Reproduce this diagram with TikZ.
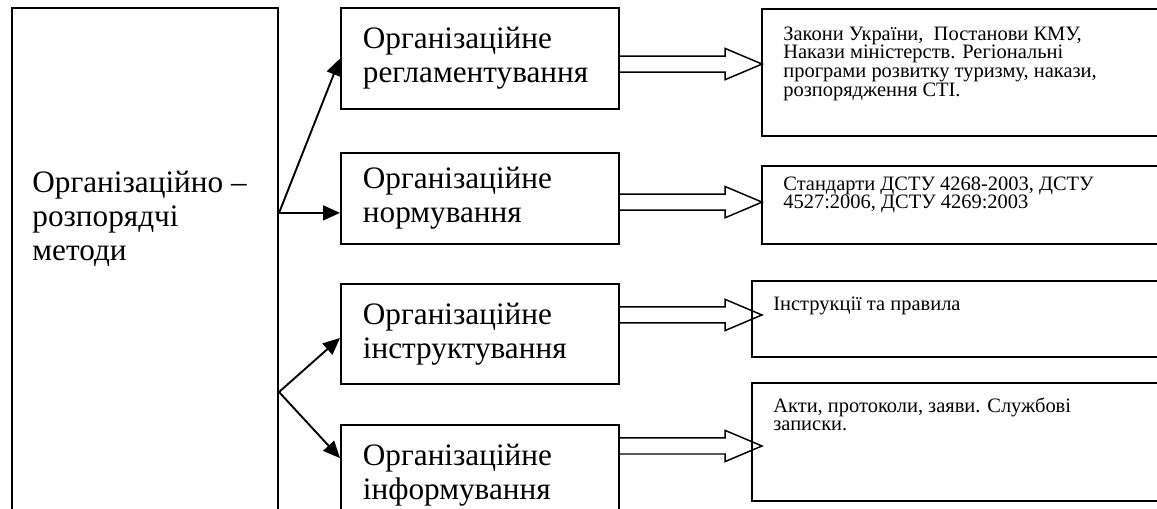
\documentclass[tikz,border=0pt]{standalone}
\usepackage{fontspec}
\setmainfont{Liberation Serif}
\usetikzlibrary{arrows.meta,positioning,calc}
\tikzset{
  methodbox/.style={draw, line width=0.95pt, anchor=north west, inner sep=0pt},
  bigtext/.style={align=left, inner sep=0pt, font=\fontsize{14.8pt}{16.2pt}\selectfont},
  kindbox/.style={draw, line width=0.95pt, anchor=north west, align=left,
    font=\fontsize{14.8pt}{16.2pt}\selectfont, text width=111pt, inner xsep=10.4pt,
    minimum width=131.8pt},
  docbox/.style={draw, line width=0.95pt, anchor=north west, minimum width=199pt},
  doctext/.style={align=left, inner sep=0pt, font=\fontsize{9.7pt}{8.9pt}\selectfont},
  linkarrow/.style={-{Triangle[length=8pt, width=7pt]}, line width=0.9pt},
  blockarrow/.style={line width=0.7pt}
}
\newcommand\hollowarrow[2]{%
  \draw[blockarrow] let \p1=(#1), \p2=(#2) in
    (\x1,\y2+3.8pt) -- (\x2-17.5pt,\y2+3.8pt) -- (\x2-17.5pt,\y2+7.4pt)
    -- (\x2,\y2) -- (\x2-17.5pt,\y2-7.4pt) -- (\x2-17.5pt,\y2-3.8pt)
    -- (\x1,\y2-3.8pt);}

\begin{document}
\begin{tikzpicture}[x=0.474pt, y=-0.474pt]
  \useasboundingbox (0,0) rectangle (1157,509);
  % left column
  \node[methodbox, minimum width=126.1pt, minimum height=300pt] (methods) at (11,7) {};
  \node[bigtext, anchor=west] (methodstext) at (32,219)
    {Організаційно –\\розпорядчі\\методи};
  \coordinate (fork1) at ([yshift=-97.6pt]methods.north east);
  \coordinate (fork2) at ([yshift=-182.5pt]methods.north east);
  % middle column
  \node[kindbox, minimum height=47.9pt] (reg) at (340,7)
    {Організаційне\\регламентування};
  \node[kindbox, minimum height=43.1pt, below=19.9pt of reg] (norm)
    {Організаційне\\нормування};
  \node[kindbox, minimum height=47.4pt, below=18pt of norm] (instr)
    {Організаційне\\інструктування};
  \node[kindbox, minimum height=47.4pt, below=18.5pt of instr] (inform)
    {Організаційне\\інформування};
  % right column
  \node[docbox, minimum height=60.2pt] (laws) at (761,8) {};
  \node[docbox, minimum height=37pt, below=13.3pt of laws] (standards) {};
  \node[docbox, minimum height=36pt] (rules) at (751,280) {};
  \node[docbox, minimum height=55.9pt, below=11.4pt of rules] (records) {};
  \node[doctext, below right=8.6pt and 10.4pt of laws.north west] (lawstext)
    {Закони України,~ Постанови КМУ,\\Накази міністерств. Регіональні\\програми розвитку туризму, накази,\\розпорядження СТІ.};
  \node[doctext, below right=5.2pt and 10.4pt of standards.north west] (standardstext)
    {Стандарти ДСТУ 4268-2003, ДСТУ\\4527:2006, ДСТУ 4269:2003};
  \node[doctext, below right=8pt and 10.4pt of rules.north west] (rulestext)
    {Інструкції та правила};
  \node[doctext, below right=7.1pt and 10.4pt of records.north west] (recordstext)
    {Акти, протоколи, заяви. Службові\\записки.};
  % connectors
  \draw[linkarrow] (fork1) -- (reg.west);
  \draw[linkarrow] (fork1) -- (fork1 -| norm.west);
  \draw[linkarrow] (fork2) -- ([yshift=-1.9pt]instr.west);
  \draw[linkarrow] (fork2) -- ([yshift=8pt]inform.west);
  \hollowarrow{reg.east}{[xshift=0.5pt,yshift=4pt]laws.west}
  \hollowarrow{norm.east}{[xshift=0.5pt,yshift=1.4pt]standards.west}
  \hollowarrow{instr.east}{[xshift=5.2pt,yshift=1.9pt]rules.west}
  \hollowarrow{inform.east}{[xshift=5.2pt,yshift=-1.9pt]records.west}
\end{tikzpicture}
\end{document}
